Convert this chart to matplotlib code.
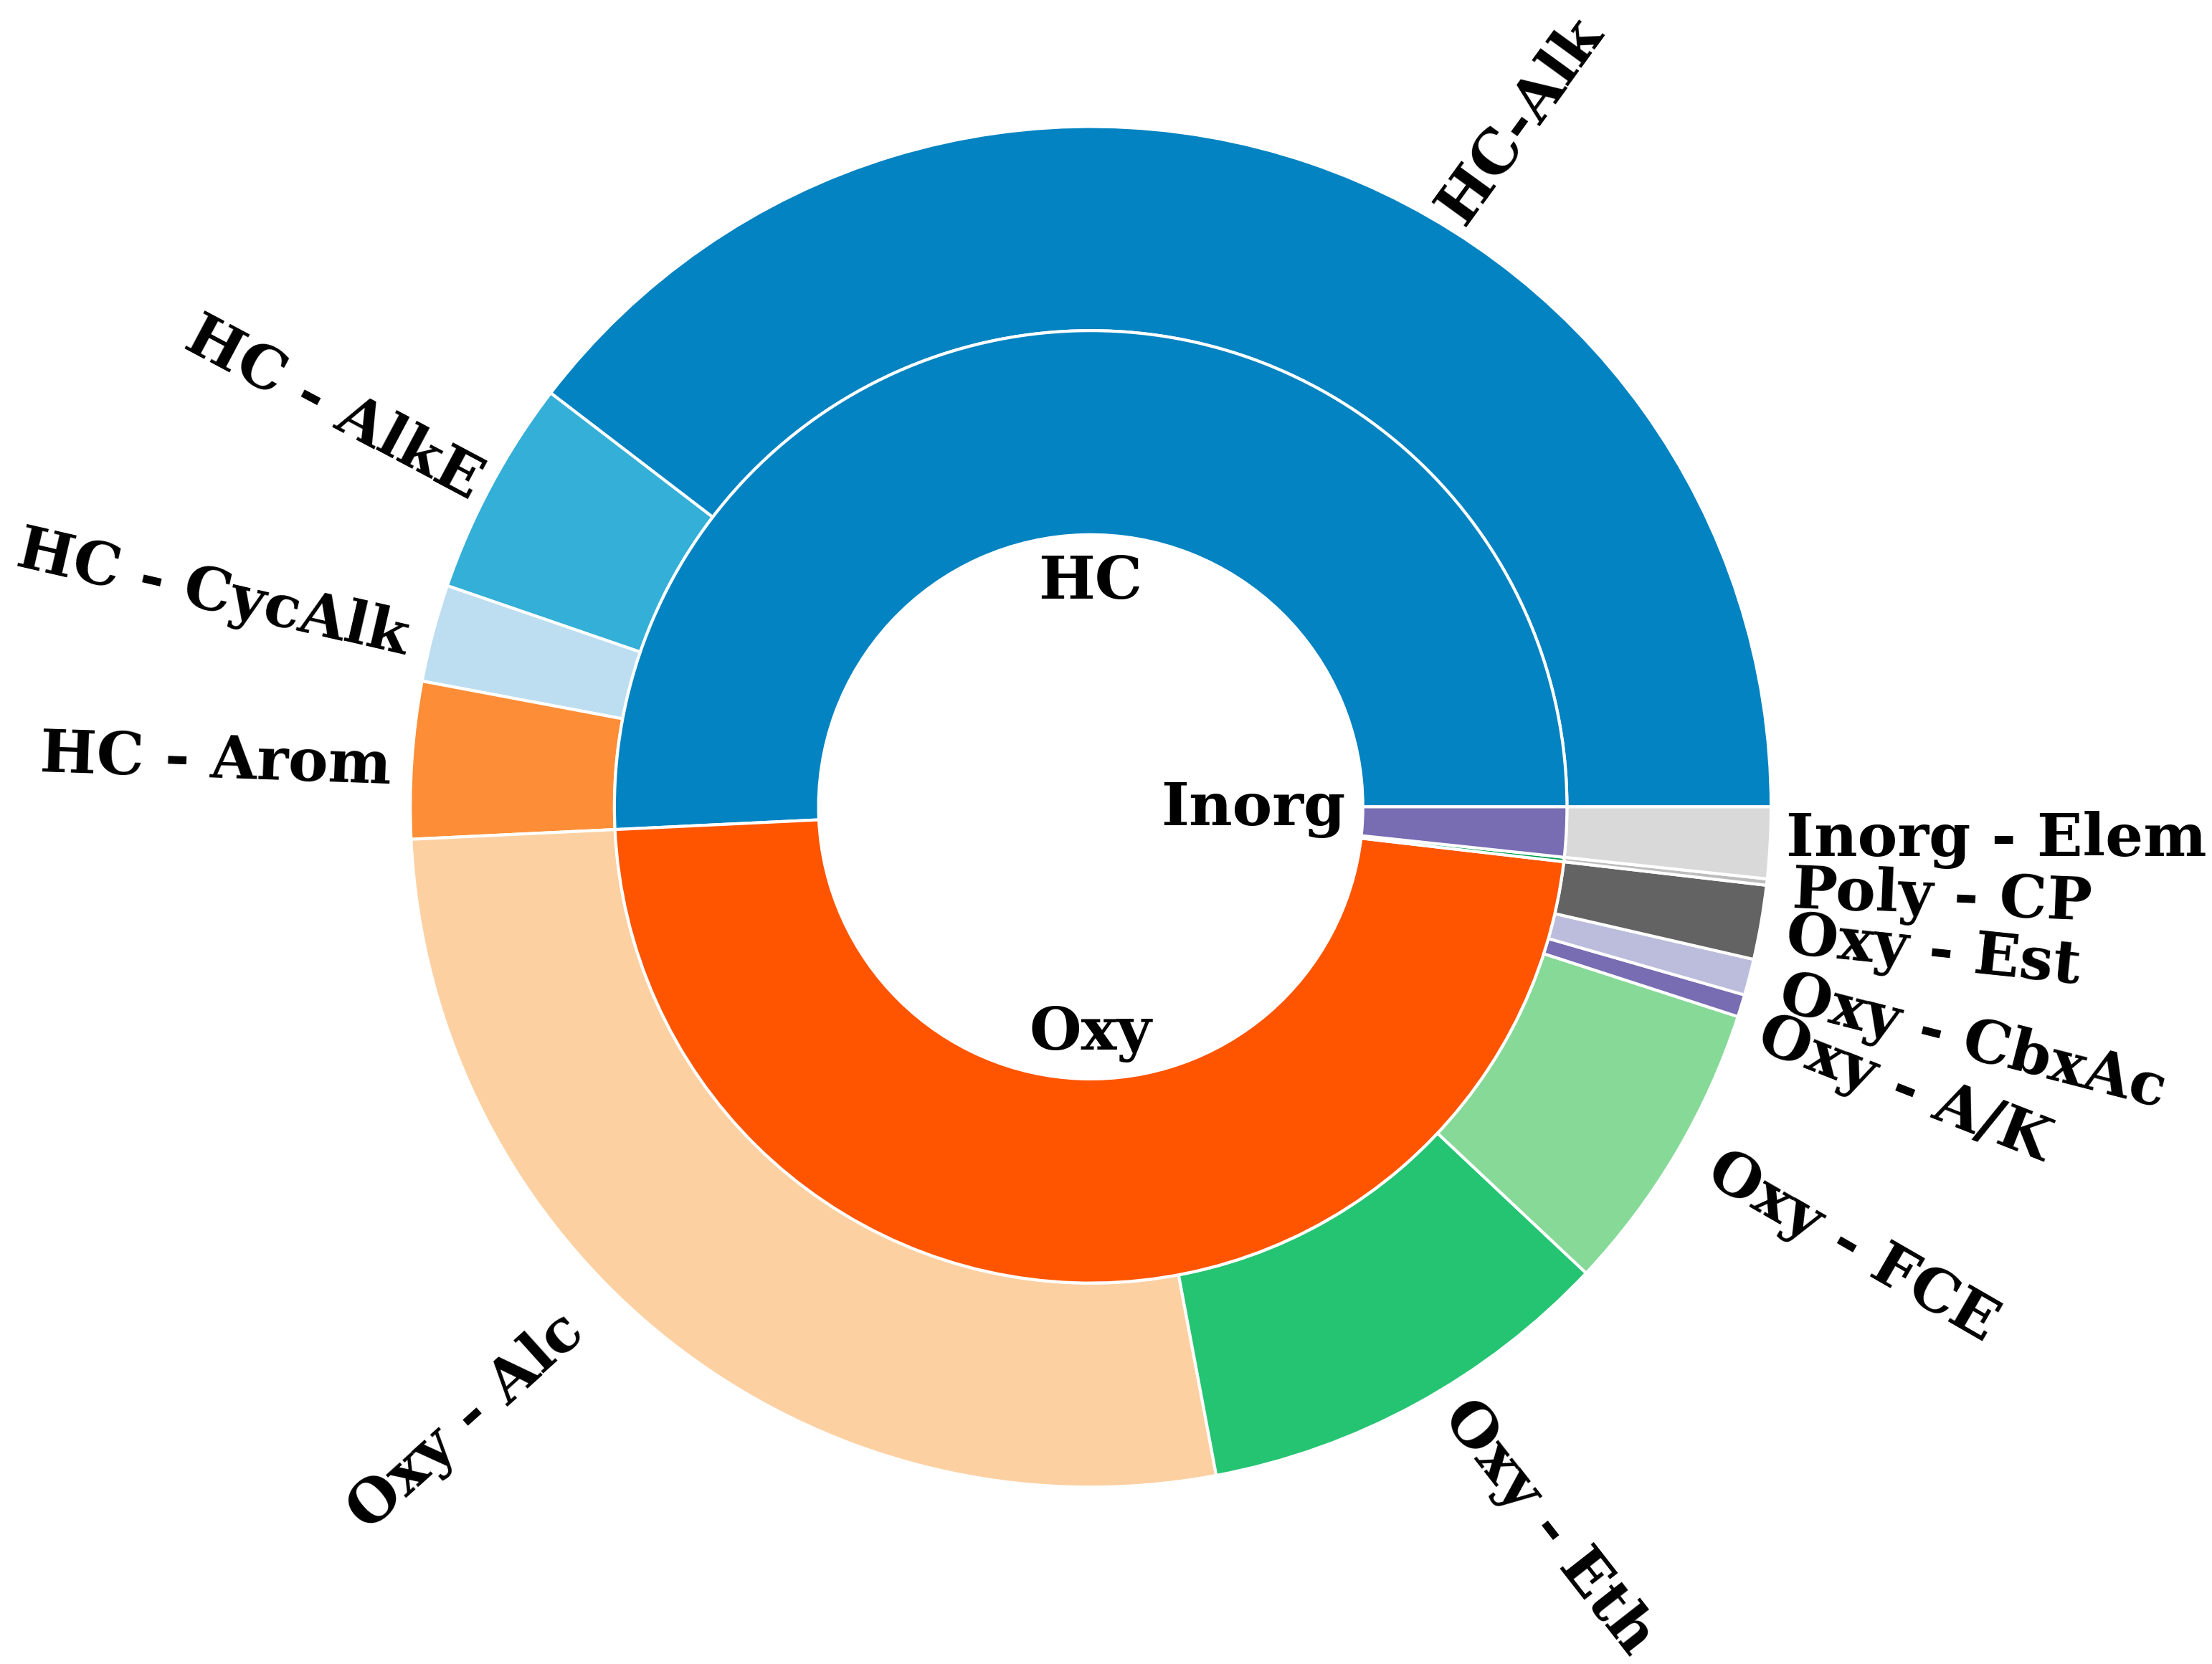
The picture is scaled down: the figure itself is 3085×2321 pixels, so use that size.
import matplotlib.pyplot as plt
import numpy as np

# inner ring: main groups (percent)
groups = ['HC', 'Oxy', 'Poly', 'Inorg']
group_vals = [50.77, 47.41, 0.15, 1.69]
group_colors = ['#0383c1', '#ff5500', '#00a050', '#786cb3']

# outer ring: sub classes (percent)
subs = ['HC-Alk', 'HC - AlkE', 'HC - CycAlk', 'HC - Arom',
        'Oxy - Alc', 'Oxy - Eth', 'Oxy - FCE', 'Oxy - A/K', 'Oxy - CbxAc', 'Oxy - Est',
        'Poly - CP', 'Inorg - Elem']
sub_vals = [39.6, 5.14, 2.31, 3.72,
            27.2, 10.03, 7.03, 0.53, 0.86, 1.76,
            0.15, 1.69]
sub_colors = ['#0383c1', '#33afd8', '#bddef1', '#fd8e37',
              '#fdd0a2', '#25c472', '#87d998', '#786cb3', '#bcbddd', '#636363',
              '#bdbdbd', '#d9d9d9']

# label placement (angle deg, distance, rotation) - tuned by hand for the crowded ones
sub_label_pos = [(57.9, 1.19, 54), (152.3, 1.257, -28), (166.4, 1.328, -13), (177.0, 1.288, -2),
                 (224.6, 1.288, 42), (302.4, 1.255, -52), (329.9, 1.293, -30), (340.8, 1.266, -21.4),
                 (345.0, 1.342, -14.4), (350.2, 1.257, -6), (353.9, 1.258, -2.4), (357.9, 1.332, 0)]
group_label_pos = [(90, 0.33), (270, 0.334), None, (-1, 0.239)]

font = dict(family='DejaVu Serif', fontweight='bold', fontsize=20, color='black')

fig = plt.figure(figsize=(3085 / 300, 2321 / 300), dpi=300)
ax = fig.add_axes([0, 0, 1, 1])

wp = dict(width=0.3, edgecolor='white', linewidth=1.0)
ax.pie(sub_vals, radius=1.0, colors=sub_colors, startangle=0, counterclock=True, wedgeprops=wp)
ax.pie(group_vals, radius=0.7, colors=group_colors, startangle=0, counterclock=True, wedgeprops=wp)

for lab, (ang, dist, rot) in zip(subs, sub_label_pos):
    a = np.deg2rad(ang)
    ax.text(dist * np.cos(a), dist * np.sin(a), lab, rotation=rot, rotation_mode='anchor',
            ha='center', va='center', **font)

for lab, pos in zip(groups, group_label_pos):
    if pos is None:
        continue
    a = np.deg2rad(pos[0])
    ax.text(pos[1] * np.cos(a), pos[1] * np.sin(a), lab, ha='center', va='center', **font)

ax.set_xlim(-1.603, 1.648)
ax.set_ylim(-1.260, 1.186)
ax.set_aspect('equal')
ax.axis('off')

fig.savefig('out.png', dpi=300)
